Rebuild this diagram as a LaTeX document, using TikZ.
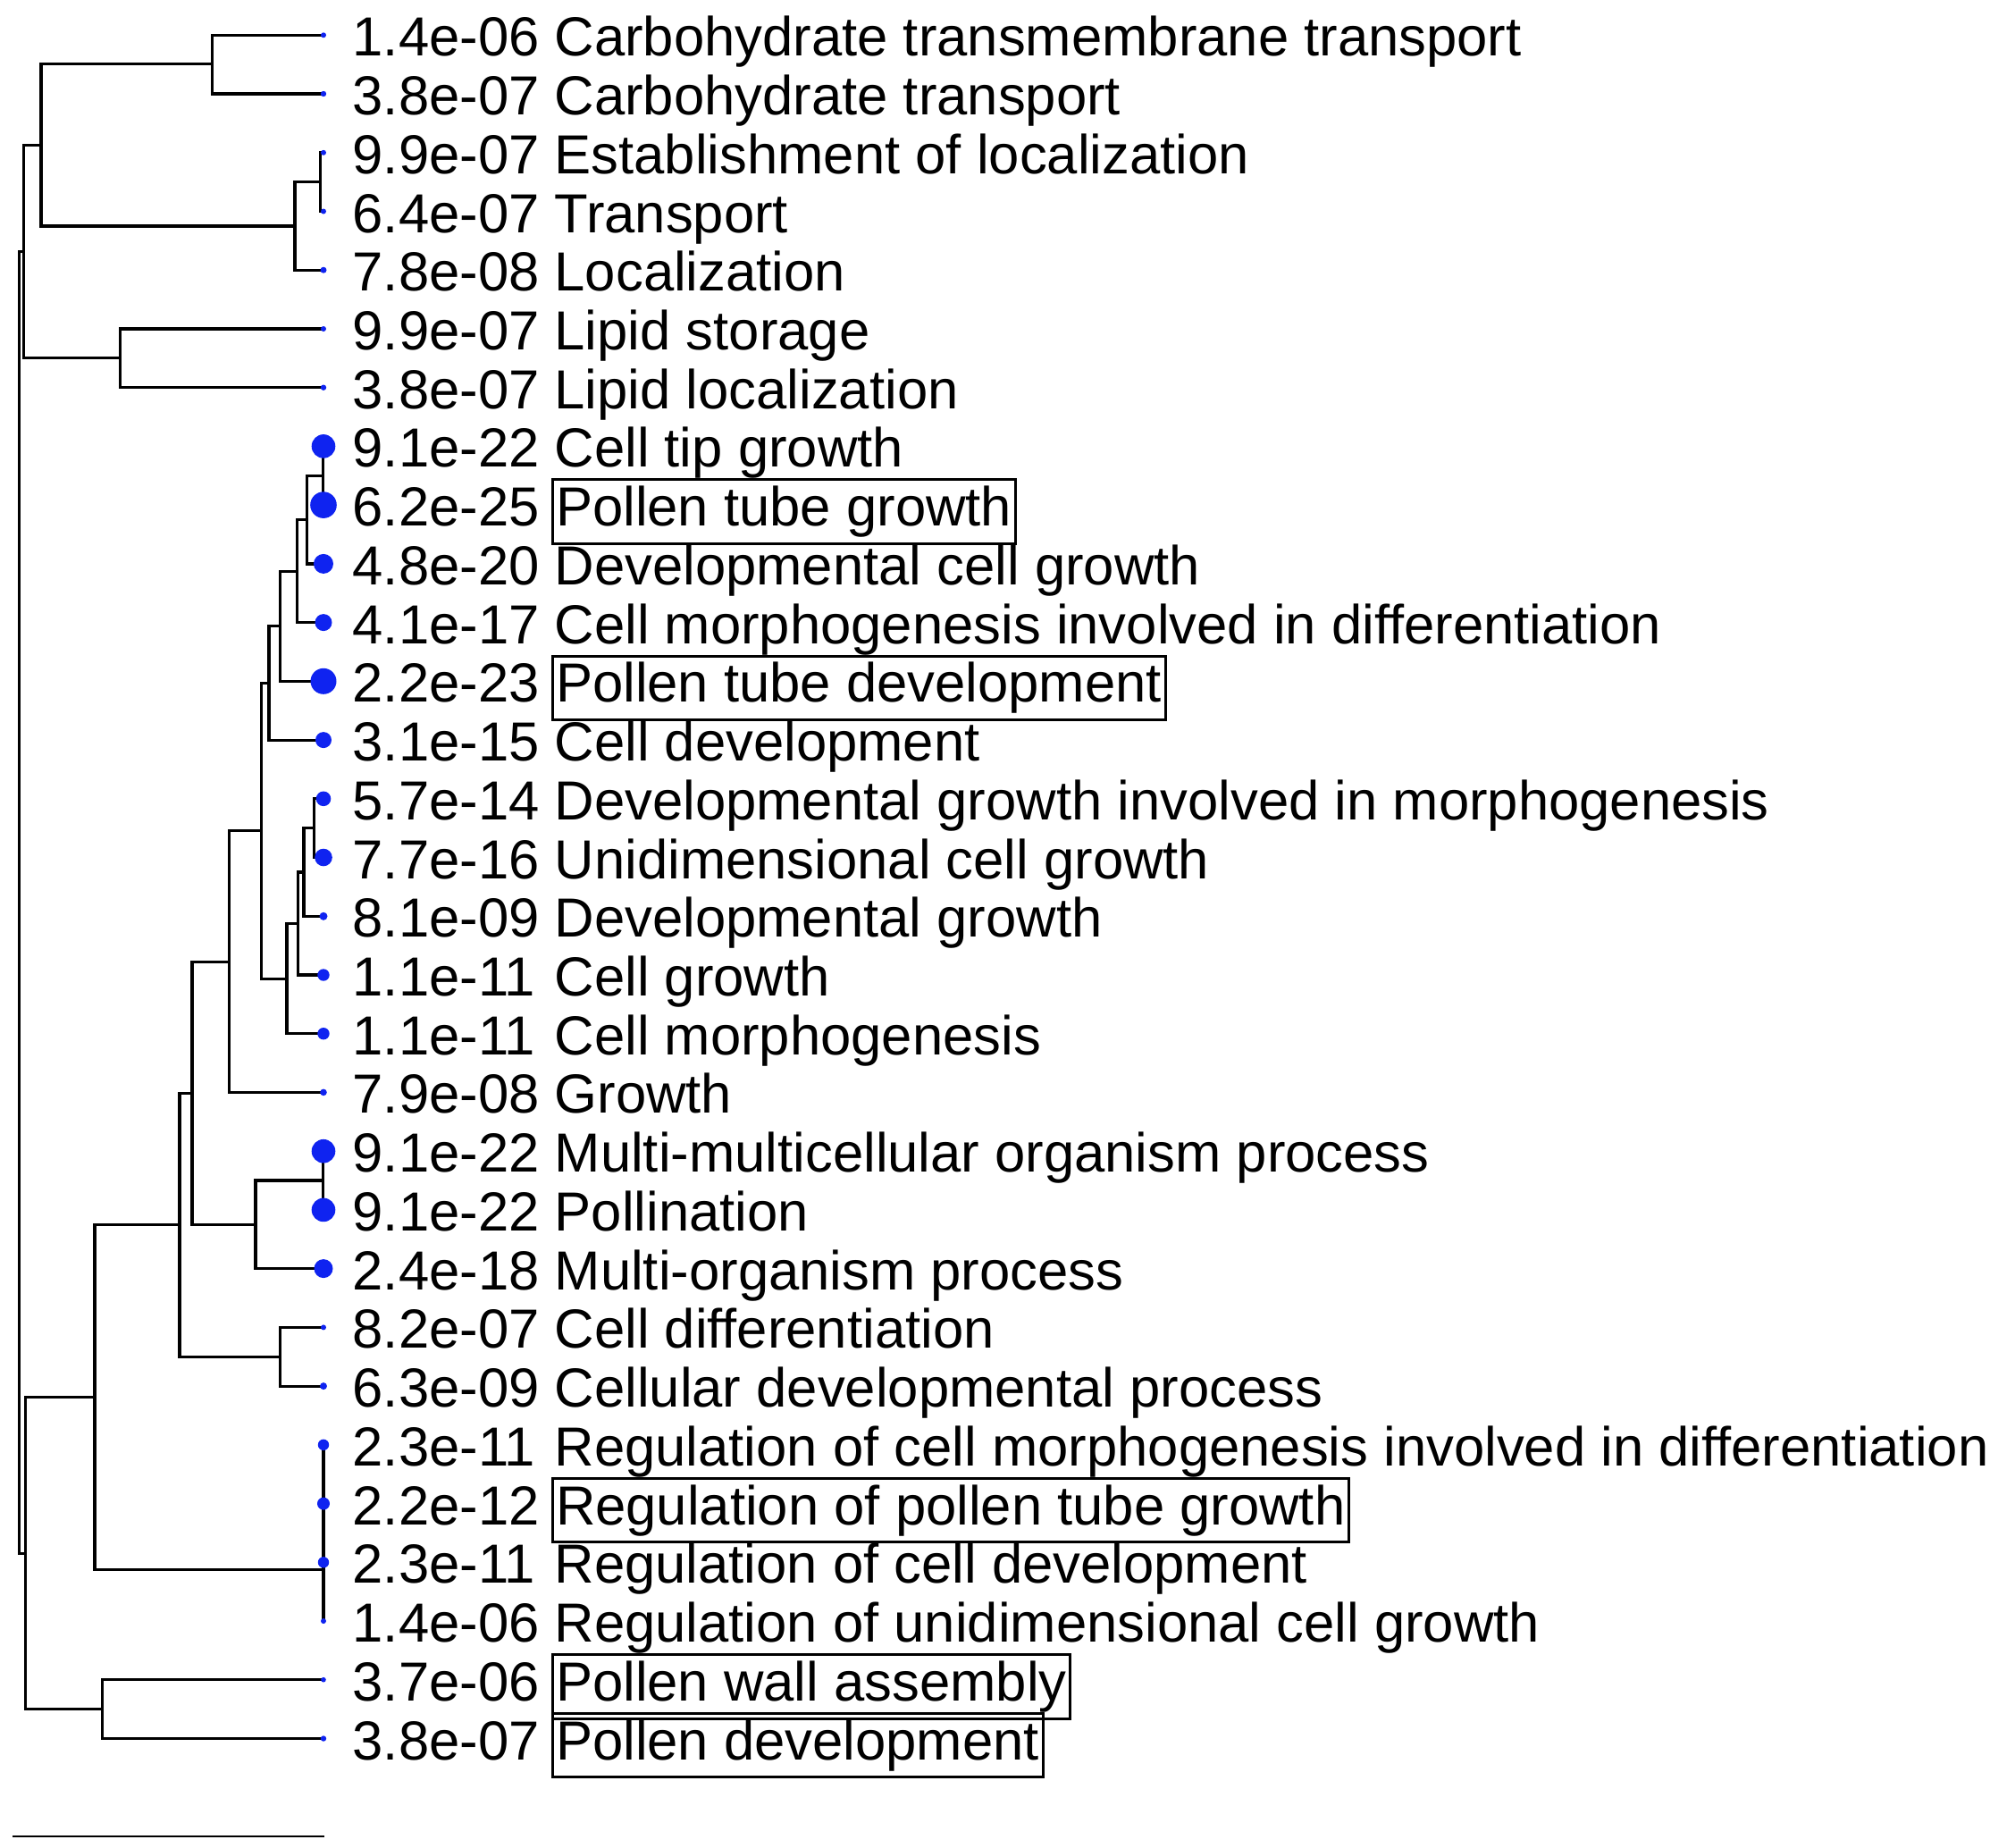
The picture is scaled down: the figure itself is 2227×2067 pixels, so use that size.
\documentclass[tikz,border=0pt]{standalone}
\usepackage{fontspec}
\setmainfont{Liberation Sans}
\definecolor{dotblue}{RGB}{15,35,240}

\begin{document}
\begin{tikzpicture}[x=1pt,y=-1pt,
    every node/.style={font=\fontsize{61.6}{70}\selectfont},
    pval/.style={anchor=base west,inner sep=0pt,yshift=-23.5pt},
    term/.style={anchor=base west,inner xsep=4pt,inner ysep=7pt,yshift=-23.5pt},
    boxed/.style={term,draw,line width=3pt},
    branch/.style={line width=3.2pt}]

     \useasboundingbox (0,0) rectangle (2227,2067);

     % leaf tips
     \coordinate (l1) at (362,39.3);
     \coordinate (l2) at (362,105.0);
     \coordinate (l3) at (362,170.8);
     \coordinate (l4) at (362,236.5);
     \coordinate (l5) at (362,302.2);
     \coordinate (l6) at (362,368.0);
     \coordinate (l7) at (362,433.7);
     \coordinate (l8) at (362,499.4);
     \coordinate (l9) at (362,565.1);
     \coordinate (l10) at (362,630.9);
     \coordinate (l11) at (362,696.6);
     \coordinate (l12) at (362,762.3);
     \coordinate (l13) at (362,828.1);
     \coordinate (l14) at (362,893.8);
     \coordinate (l15) at (362,959.5);
     \coordinate (l16) at (362,1025.3);
     \coordinate (l17) at (362,1091.0);
     \coordinate (l18) at (362,1156.7);
     \coordinate (l19) at (362,1222.4);
     \coordinate (l20) at (362,1288.2);
     \coordinate (l21) at (362,1353.9);
     \coordinate (l22) at (362,1419.6);
     \coordinate (l23) at (362,1485.4);
     \coordinate (l24) at (362,1551.1);
     \coordinate (l25) at (362,1616.8);
     \coordinate (l26) at (362,1682.6);
     \coordinate (l27) at (362,1748.3);
     \coordinate (l28) at (362,1814.0);
     \coordinate (l29) at (362,1879.7);
     \coordinate (l30) at (362,1945.5);

     % inner nodes
     \coordinate (nA) at (237.3,71.7);
     \coordinate (nB) at (358.3,203.6);
     \coordinate (nC) at (330,252.9);
     \coordinate (nD) at (46,162.3);
     \coordinate (nE) at (134.3,400.8);
     \coordinate (nF) at (26.7,281.6);
     \coordinate (nH) at (361.7,532.3);
     \coordinate (nI) at (343.3,581.6);
     \coordinate (nJ) at (332.3,639.1);
     \coordinate (nK) at (313.3,700.7);
     \coordinate (nL) at (301,764.4);
     \coordinate (nP) at (351.7,926.7);
     \coordinate (nQ) at (340,976.0);
     \coordinate (nR) at (333.3,1033.6);
     \coordinate (nS) at (321,1095.2);
     \coordinate (nM) at (292.7,929.8);
     \coordinate (nO) at (256.7,1076.1);
     \coordinate (nT) at (361.7,1321.0);
     \coordinate (nU) at (286,1370.3);
     \coordinate (nV) at (215,1223.2);
     \coordinate (nW) at (313.3,1518.2);
     \coordinate (nX) at (201,1370.7);
     \coordinate (nG1) at (362,1649.7);
     \coordinate (nG2) at (362,1699.0);
     \coordinate (nG3) at (362,1756.5);
     \coordinate (nY) at (106,1563.6);
     \coordinate (nZa) at (114.3,1912.6);
     \coordinate (nZ) at (28.3,1738.1);
     \coordinate (root) at (21.7,1009.9);

     \draw[branch] (nA) |- (l1);
     \draw[branch] (nA) |- (l2);
     \draw[branch] (nB) |- (l3);
     \draw[branch] (nB) |- (l4);
     \draw[branch] (nC) |- (nB);
     \draw[branch] (nC) |- (l5);
     \draw[branch] (nD) |- (nA);
     \draw[branch] (nD) |- (nC);
     \draw[branch] (nE) |- (l6);
     \draw[branch] (nE) |- (l7);
     \draw[branch] (nF) |- (nD);
     \draw[branch] (nF) |- (nE);

     \draw[branch] (nH) |- (l8);
     \draw[branch] (nH) |- (l9);
     \draw[branch] (nI) |- (nH);
     \draw[branch] (nI) |- (l10);
     \draw[branch] (nJ) |- (nI);
     \draw[branch] (nJ) |- (l11);
     \draw[branch] (nK) |- (nJ);
     \draw[branch] (nK) |- (l12);
     \draw[branch] (nL) |- (nK);
     \draw[branch] (nL) |- (l13);

     \draw[branch] (nP) |- (l14);
     \draw[branch] (nP) |- (l15);
     \draw[branch] (nQ) |- (nP);
     \draw[branch] (nQ) |- (l16);
     \draw[branch] (nR) |- (nQ);
     \draw[branch] (nR) |- (l17);
     \draw[branch] (nS) |- (nR);
     \draw[branch] (nS) |- (l18);

     \draw[branch] (nM) |- (nL);
     \draw[branch] (nM) |- (nS);
     \draw[branch] (nO) |- (nM);
     \draw[branch] (nO) |- (l19);

     \draw[branch] (nT) |- (l20);
     \draw[branch] (nT) |- (l21);
     \draw[branch] (nU) |- (nT);
     \draw[branch] (nU) |- (l22);
     \draw[branch] (nV) |- (nO);
     \draw[branch] (nV) |- (nU);

     \draw[branch] (nW) |- (l23);
     \draw[branch] (nW) |- (l24);
     \draw[branch] (nX) |- (nV);
     \draw[branch] (nX) |- (nW);

     \draw[branch] (nG1) -- (l25);
     \draw[branch] (nG1) -- (l26);
     \draw[branch] (nG2) -- (nG1);
     \draw[branch] (nG2) -- (l27);
     \draw[branch] (nG3) -- (nG2);
     \draw[branch] (nG3) -- (l28);
     \draw[branch] (nY) |- (nX);
     \draw[branch] (nY) |- (nG3);

     \draw[branch] (nZa) |- (l29);
     \draw[branch] (nZa) |- (l30);
     \draw[branch] (nZ) |- (nY);
     \draw[branch] (nZ) |- (nZa);

     \draw[branch] (root) |- (nF);
     \draw[branch] (root) |- (nZ);

     % tips, sized by p-value
     \fill[dotblue] (l1) circle[radius=3pt] (l2) circle[radius=3.2pt]
          (l3) circle[radius=3pt] (l4) circle[radius=3pt]
          (l5) circle[radius=3.5pt] (l6) circle[radius=3pt]
          (l7) circle[radius=3.2pt] (l8) circle[radius=13.3pt]
          (l9) circle[radius=14.8pt] (l10) circle[radius=11pt]
          (l11) circle[radius=9.5pt] (l12) circle[radius=14.5pt]
          (l13) circle[radius=9pt] (l14) circle[radius=8.3pt]
          (l15) circle[radius=9.8pt] (l16) circle[radius=4.5pt]
          (l17) circle[radius=6.7pt] (l18) circle[radius=6.7pt]
          (l19) circle[radius=3.8pt] (l20) circle[radius=13.3pt]
          (l21) circle[radius=13.3pt] (l22) circle[radius=10.5pt]
          (l23) circle[radius=3pt] (l24) circle[radius=4pt]
          (l25) circle[radius=6.2pt] (l26) circle[radius=7pt]
          (l27) circle[radius=6.2pt] (l28) circle[radius=3pt]
          (l29) circle[radius=2.8pt] (l30) circle[radius=3.2pt];

     \node[pval] (p1) at (394.5,39.3) {1.4e-06};
     \node[pval] (p2) at (394.5,105.0) {3.8e-07};
     \node[pval] (p3) at (394.5,170.8) {9.9e-07};
     \node[pval] (p4) at (394.5,236.5) {6.4e-07};
     \node[pval] (p5) at (394.5,302.2) {7.8e-08};
     \node[pval] (p6) at (394.5,368.0) {9.9e-07};
     \node[pval] (p7) at (394.5,433.7) {3.8e-07};
     \node[pval] (p8) at (394.5,499.4) {9.1e-22};
     \node[pval] (p9) at (394.5,565.1) {6.2e-25};
     \node[pval] (p10) at (394.5,630.9) {4.8e-20};
     \node[pval] (p11) at (394.5,696.6) {4.1e-17};
     \node[pval] (p12) at (394.5,762.3) {2.2e-23};
     \node[pval] (p13) at (394.5,828.1) {3.1e-15};
     \node[pval] (p14) at (394.5,893.8) {5.7e-14};
     \node[pval] (p15) at (394.5,959.5) {7.7e-16};
     \node[pval] (p16) at (394.5,1025.3) {8.1e-09};
     \node[pval] (p17) at (394.5,1091.0) {1.1e-11};
     \node[pval] (p18) at (394.5,1156.7) {1.1e-11};
     \node[pval] (p19) at (394.5,1222.4) {7.9e-08};
     \node[pval] (p20) at (394.5,1288.2) {9.1e-22};
     \node[pval] (p21) at (394.5,1353.9) {9.1e-22};
     \node[pval] (p22) at (394.5,1419.6) {2.4e-18};
     \node[pval] (p23) at (394.5,1485.4) {8.2e-07};
     \node[pval] (p24) at (394.5,1551.1) {6.3e-09};
     \node[pval] (p25) at (394.5,1616.8) {2.3e-11};
     \node[pval] (p26) at (394.5,1682.6) {2.2e-12};
     \node[pval] (p27) at (394.5,1748.3) {2.3e-11};
     \node[pval] (p28) at (394.5,1814.0) {1.4e-06};
     \node[pval] (p29) at (394.5,1879.7) {3.7e-06};
     \node[pval] (p30) at (394.5,1945.5) {3.8e-07};

     \node[term] (t1) at (616.5,39.3) {Carbohydrate transmembrane transport};
     \node[term] (t2) at (616.5,105.0) {Carbohydrate transport};
     \node[term] (t3) at (616.5,170.8) {Establishment of localization};
     \node[term] (t4) at (616.5,236.5) {Transport};
     \node[term] (t5) at (616.5,302.2) {Localization};
     \node[term] (t6) at (616.5,368.0) {Lipid storage};
     \node[term] (t7) at (616.5,433.7) {Lipid localization};
     \node[term] (t8) at (616.5,499.4) {Cell tip growth};
     \node[boxed] (t9) at (616.5,565.1) {Pollen tube growth};
     \node[term] (t10) at (616.5,630.9) {Developmental cell growth};
     \node[term] (t11) at (616.5,696.6) {Cell morphogenesis involved in differentiation};
     \node[boxed] (t12) at (616.5,762.3) {Pollen tube development};
     \node[term] (t13) at (616.5,828.1) {Cell development};
     \node[term] (t14) at (616.5,893.8) {Developmental growth involved in morphogenesis};
     \node[term] (t15) at (616.5,959.5) {Unidimensional cell growth};
     \node[term] (t16) at (616.5,1025.3) {Developmental growth};
     \node[term] (t17) at (616.5,1091.0) {Cell growth};
     \node[term] (t18) at (616.5,1156.7) {Cell morphogenesis};
     \node[term] (t19) at (616.5,1222.4) {Growth};
     \node[term] (t20) at (616.5,1288.2) {Multi-multicellular organism process};
     \node[term] (t21) at (616.5,1353.9) {Pollination};
     \node[term] (t22) at (616.5,1419.6) {Multi-organism process};
     \node[term] (t23) at (616.5,1485.4) {Cell differentiation};
     \node[term] (t24) at (616.5,1551.1) {Cellular developmental process};
     \node[term] (t25) at (616.5,1616.8) {Regulation of cell morphogenesis involved in differentiation};
     \node[boxed] (t26) at (616.5,1682.6) {Regulation of pollen tube growth};
     \node[term] (t27) at (616.5,1748.3) {Regulation of cell development};
     \node[term] (t28) at (616.5,1814.0) {Regulation of unidimensional cell growth};
     \node[boxed] (t29) at (616.5,1879.7) {Pollen wall assembly};
     \node[boxed] (t30) at (616.5,1945.5) {Pollen development};

     % scale bar
     \coordinate (sb1) at (14,2055);
     \coordinate (sb2) at (363,2055);
     \draw[line width=2.5pt] (sb1) -- (sb2);

\end{tikzpicture}
\end{document}
